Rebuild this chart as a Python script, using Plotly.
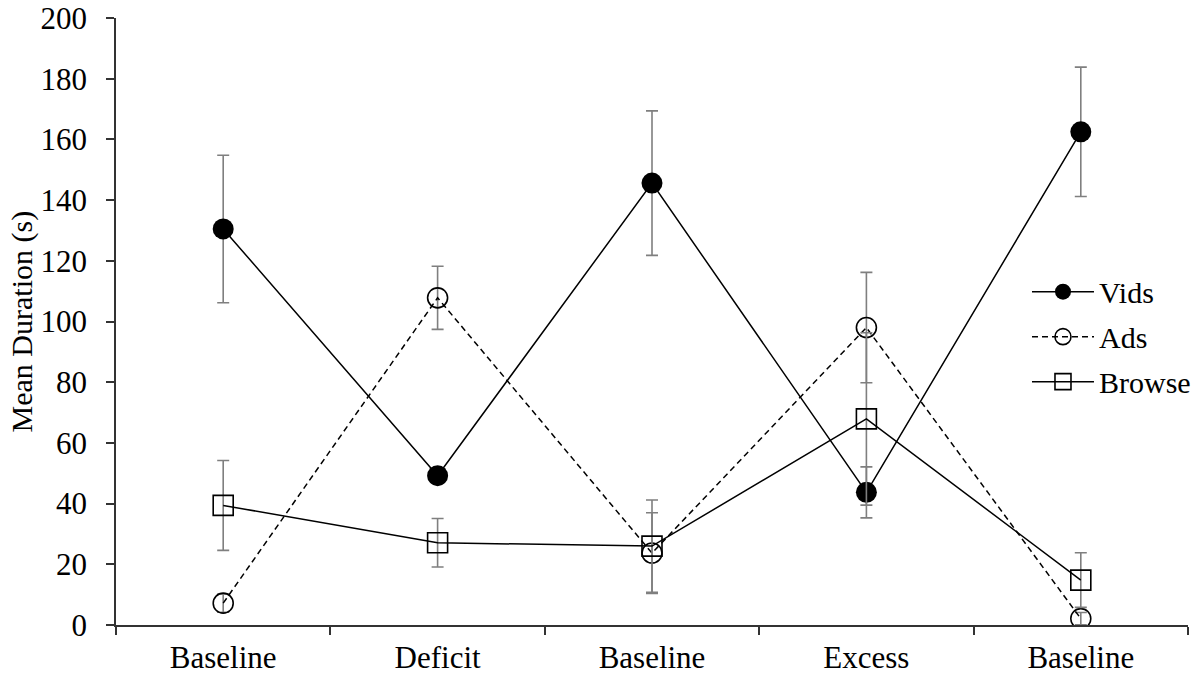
import plotly.graph_objects as go

categories = ["Baseline", "Deficit", "Baseline", "Excess", "Baseline"]
vids = [130.5, 49.2, 145.6, 43.7, 162.5]
vids_err = [24.3, 2.5, 23.8, 8.4, 21.3]
ads = [7.2, 107.8, 23.7, 98.0, 2.1]
ads_err = [3.0, 10.4, 13.3, 18.2, 2.0]
browse = [39.4, 27.1, 26.0, 67.9, 14.8]
browse_err = [14.8, 8.0, 15.2, 28.4, 9.0]
y_ticks = [0, 20, 40, 60, 80, 100, 120, 140, 160, 180, 200]

x = list(range(len(categories)))
FONT = "Liberation Serif, Times New Roman, serif"
ERR = dict(type="data", visible=True, color="#7f7f7f", thickness=1.6, width=6)

fig = go.Figure()
fig.add_trace(go.Scatter(
    x=x, y=vids, name="Vids", mode="lines+markers", legendgroup="a",
    line=dict(color="black", width=1.5),
    marker=dict(symbol="circle", size=21, color="black"),
    error_y=dict(array=vids_err, **ERR)))
fig.add_trace(go.Scatter(
    x=x, y=ads, name="Ads", mode="lines+markers", legendgroup="b",
    line=dict(color="black", width=1.5, dash="6px,4px"),
    marker=dict(symbol="circle-open", size=20, color="black", line=dict(width=1.6)),
    error_y=dict(array=ads_err, **ERR)))
fig.add_trace(go.Scatter(
    x=x, y=browse, name="Browse", mode="lines+markers", legendgroup="c",
    line=dict(color="black", width=1.5),
    marker=dict(symbol="square-open", size=20, color="black", line=dict(width=1.6)),
    error_y=dict(array=browse_err, **ERR)))

boundaries = [i - 0.5 for i in range(len(categories) + 1)]

fig.update_layout(
    width=1203, height=679,
    margin=dict(l=116, r=15, t=18, b=54, autoexpand=False),
    paper_bgcolor="white", plot_bgcolor="white",
    font=dict(family=FONT, size=31, color="black"),
    showlegend=True,
    legend=dict(x=0.8498, y=0.592, xanchor="left", yanchor="top",
                bgcolor="rgba(0,0,0,0)", font=dict(size=30, family=FONT),
                itemwidth=62, tracegroupgap=3),
    xaxis=dict(
        range=[-0.5, len(categories) - 0.5], automargin=False,
        tickmode="array", tickvals=x, ticktext=categories,
        ticks="outside", ticklen=4, tickcolor="rgba(0,0,0,0)",
        showline=True, linecolor="#333", linewidth=1.5,
        showgrid=False, zeroline=False, ticklabeloverflow="allow",
        minor=dict(tickmode="array", tickvals=boundaries, ticks="outside",
                   ticklen=8, tickcolor="#333", tickwidth=1.5, showgrid=False),
        tickfont=dict(size=31, family=FONT),
    ),
    yaxis=dict(
        range=[0, 200], tickmode="array", tickvals=y_ticks, automargin=False,
        ticks="outside", ticklen=8, tickcolor="#333", tickwidth=1.5,
        showline=True, linecolor="#333", linewidth=1.5,
        showgrid=False, zeroline=False, ticklabeloverflow="allow",
        ticklabelstandoff=13,
        tickfont=dict(size=31, family=FONT),
    ),
    annotations=[dict(
        text="Mean Duration (s)", xref="paper", yref="paper",
        x=-0.0877, y=0.5, xanchor="center", yanchor="middle",
        textangle=-90, showarrow=False, font=dict(size=30, family=FONT))],
)

fig.write_html("out.html", config={"displayModeBar": False},
               post_script="document.body.style.margin='0';document.body.style.overflow='hidden';")
